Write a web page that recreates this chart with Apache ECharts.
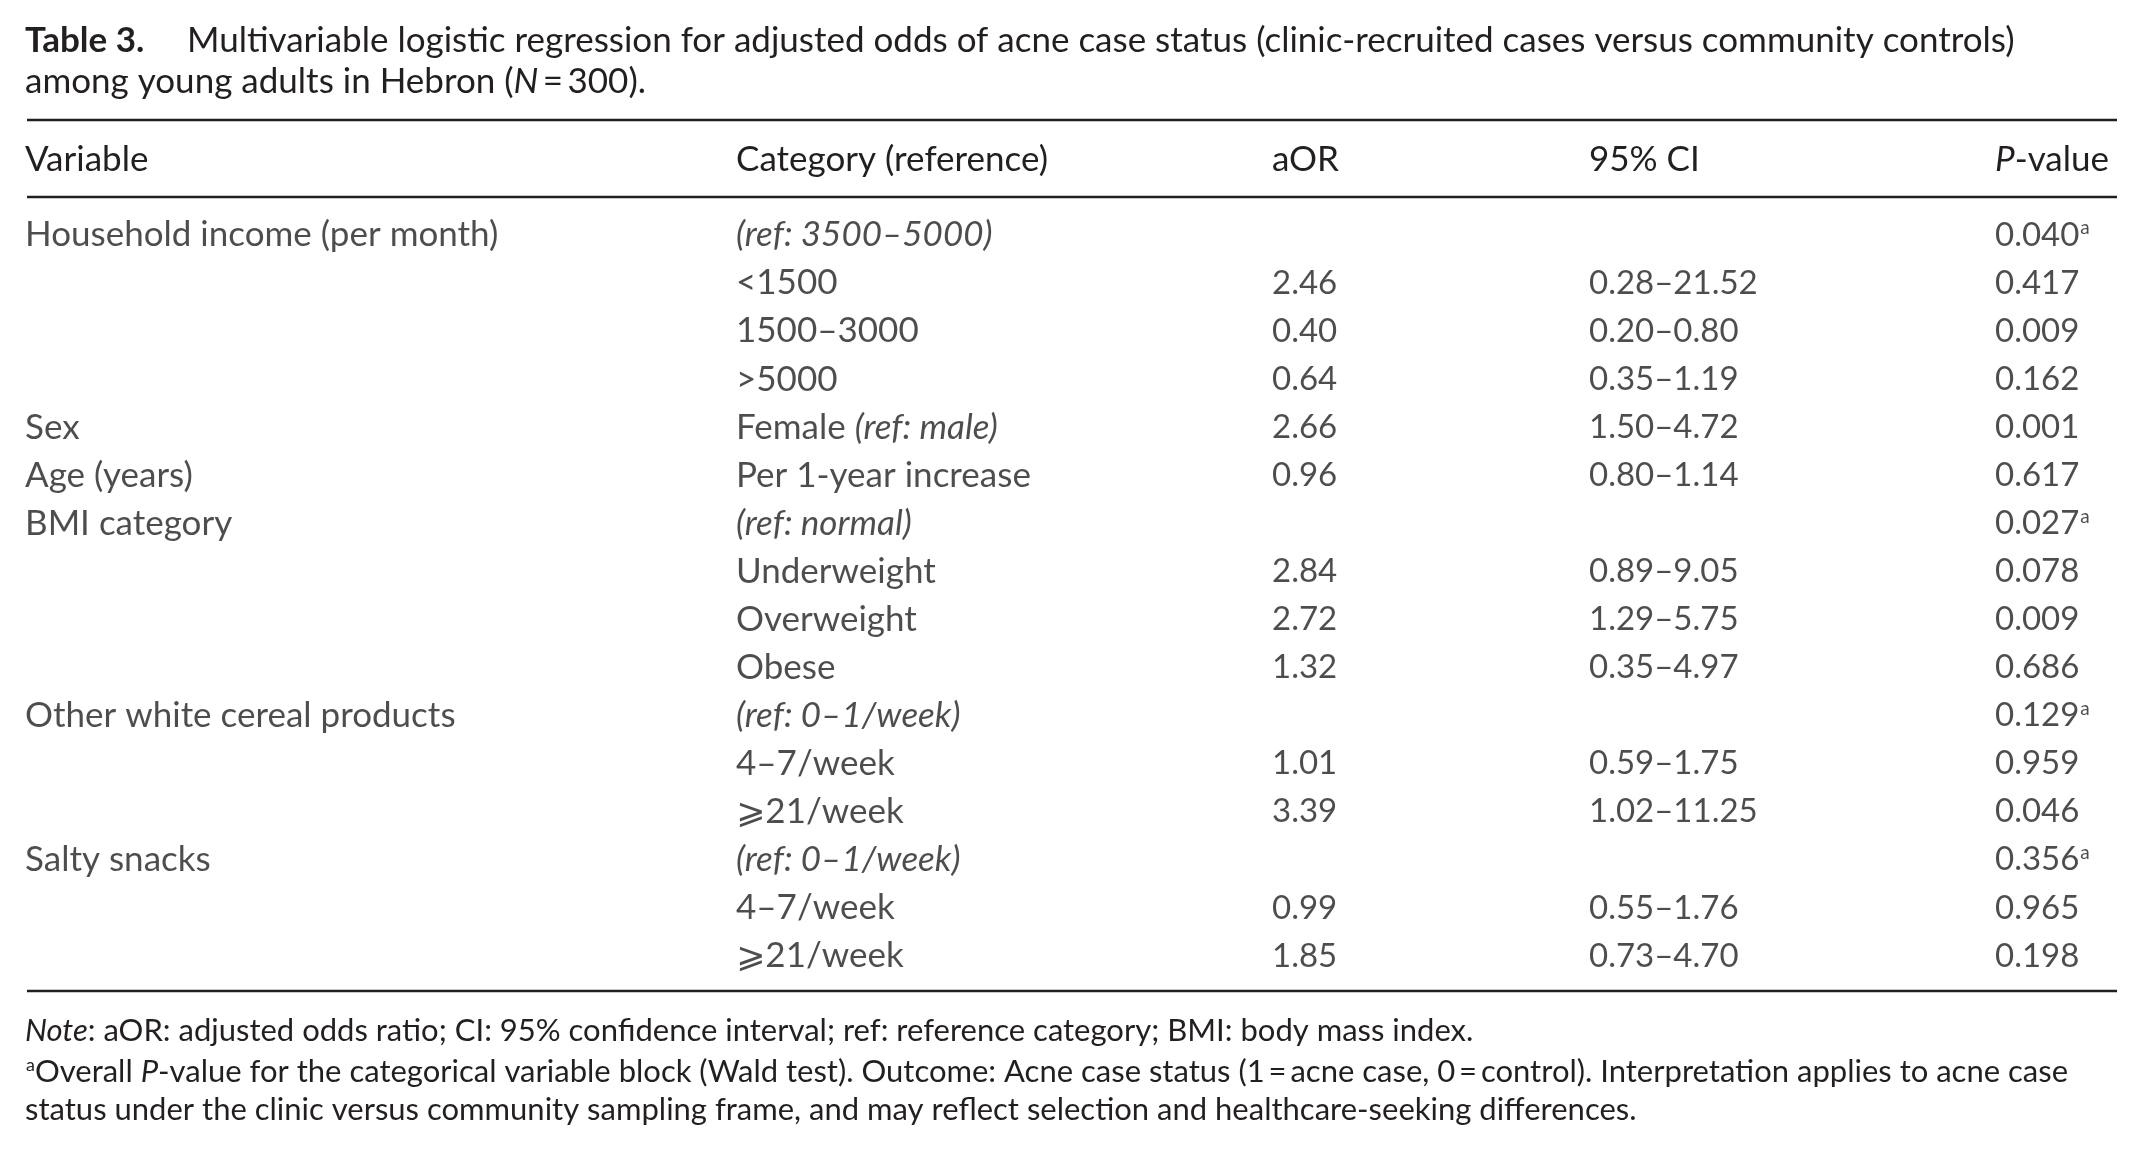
<!DOCTYPE html>
<html>
<head>
<meta charset="utf-8">
<script src="https://cdn.jsdelivr.net/npm/echarts@6/dist/echarts.min.js"></script>
<style>
html,body{margin:0;padding:0;background:#fff;}
#chart{width:2135px;height:1155px;}
</style>
</head>
<body>
<div id="chart"></div>
<script>
// ---- data ----
var titleBold = 'Table 3.';
var titleLine1 = 'Multivariable logistic regression for adjusted odds of acne case status (clinic-recruited cases versus community controls)';
var titleLine2 = 'among young adults in Hebron ({i|N}\u2009=\u2009300).';
var headers = ['Variable', 'Category (reference)', 'aOR', '95% CI', '{i|P}-value'];
var variables = ['Household income (per month)', '', '', '', 'Sex', 'Age (years)', 'BMI category', '', '', '', 'Other white cereal products', '', '', 'Salty snacks', '', ''];
var categories = ['{i|(ref: 3500\u20135000)}', '<1500', '1500\u20133000', '>5000', 'Female {i|(ref: male)}', 'Per 1-year increase', '{i|(ref: normal)}', 'Underweight', 'Overweight', 'Obese', '{i|(ref: 0\u20131/week)}', '4\u20137/week', '\u2a7e21/week', '{i|(ref: 0\u20131/week)}', '4\u20137/week', '\u2a7e21/week'];
var aOR = ['', '2.46', '0.40', '0.64', '2.66', '0.96', '', '2.84', '2.72', '1.32', '', '1.01', '3.39', '', '0.99', '1.85'];
var ci95 = ['', '0.28\u201321.52', '0.20\u20130.80', '0.35\u20131.19', '1.50\u20134.72', '0.80\u20131.14', '', '0.89\u20139.05', '1.29\u20135.75', '0.35\u20134.97', '', '0.59\u20131.75', '1.02\u201311.25', '', '0.55\u20131.76', '0.73\u20134.70'];
var pValue = ['0.040{sup|a}', '0.417', '0.009', '0.162', '0.001', '0.617', '0.027{sup|a}', '0.078', '0.009', '0.686', '0.129{sup|a}', '0.959', '0.046', '0.356{sup|a}', '0.965', '0.198'];
var footnotes = [
  '{i|Note}: aOR: adjusted odds ratio; CI: 95% confidence interval; ref: reference category; BMI: body mass index.',
  '{sup|a}Overall {i|P}-value for the categorical variable block (Wald test). Outcome: Acne case status (1\u2009=\u2009acne case, 0\u2009=\u2009control). Interpretation applies to acne case',
  'status under the clinic versus community sampling frame, and may reflect selection and healthcare-seeking differences.'
];

// ---- layout ----
var W = 2135, H = 1155;
var FONT = 'Lato, "DejaVu Sans", sans-serif';
var FS = 35;      // text columns, header, title
var FS_NUM = 33;  // numeric columns
var FS_FOOT = 31; // footnotes
var COLOR = '#231f20';
var colX = [25, 736, 1272, 1589, 1995];
var colFS = [FS, FS, FS_NUM, FS_NUM, FS_NUM];
var columns = [variables, categories, aOR, ci95, pValue];
var rowKeys = variables.map(function (_, i) { return String(i); });

function makeRich(fs) {
  return {
    i: { fontStyle: 'italic', fontFamily: FONT, fontSize: fs, color: COLOR },
    sup: { fontSize: Math.round(fs * 0.58), fontFamily: FONT, color: COLOR, verticalAlign: 'top', padding: [0, 0, Math.round(fs * 0.4), 1] }
  };
}

function textEl(x, y, text, fs, extra) {
  var st = { x: x, y: y, text: text, font: fs + 'px ' + FONT, fill: COLOR, textVerticalAlign: 'middle', rich: makeRich(fs) };
  if (extra) for (var k in extra) st[k] = extra[k];
  return { type: 'text', style: st, z: 10 };
}
function rule(y) {
  return { type: 'line', shape: { x1: 27, y1: y, x2: 2117, y2: y }, style: { stroke: '#231f20', lineWidth: 2.5 }, z: 10 };
}

var series = columns.map(function (col, c) {
  return {
    type: 'scatter',
    symbolSize: 0,
    silent: true,
    data: col.map(function (t, r) { return [colX[c], rowKeys[r]]; }),
    label: {
      show: true,
      position: 'right',
      distance: 0,
      fontFamily: FONT,
      fontSize: colFS[c],
      color: COLOR,
      rich: makeRich(colFS[c]),
      formatter: function (p) { return col[p.dataIndex]; }
    }
  };
});

var graphics = [
  textEl(25, 41, titleBold, FS, { font: 'bold ' + FS + 'px ' + FONT }),
  textEl(187, 41, titleLine1, FS),
  textEl(25, 82, titleLine2, FS),
  rule(120),
  rule(197),
  rule(991)
];
headers.forEach(function (h, c) { graphics.push(textEl(colX[c], 160, h, FS)); });
var footY = [1031, 1072, 1110];
footnotes.forEach(function (f, k) { graphics.push(textEl(25, footY[k], f, FS_FOOT)); });

var chart = echarts.init(document.getElementById('chart'), null, { renderer: 'canvas', width: W, height: H });
chart.setOption({
  backgroundColor: '#ffffff',
  animation: false,
  grid: { left: 0, right: 0, top: 211, bottom: H - 980 },
  xAxis: { type: 'value', min: 0, max: W, show: false },
  yAxis: { type: 'category', data: rowKeys, inverse: true, show: false, boundaryGap: true },
  series: series,
  graphic: graphics
});
</script>
</body>
</html>
